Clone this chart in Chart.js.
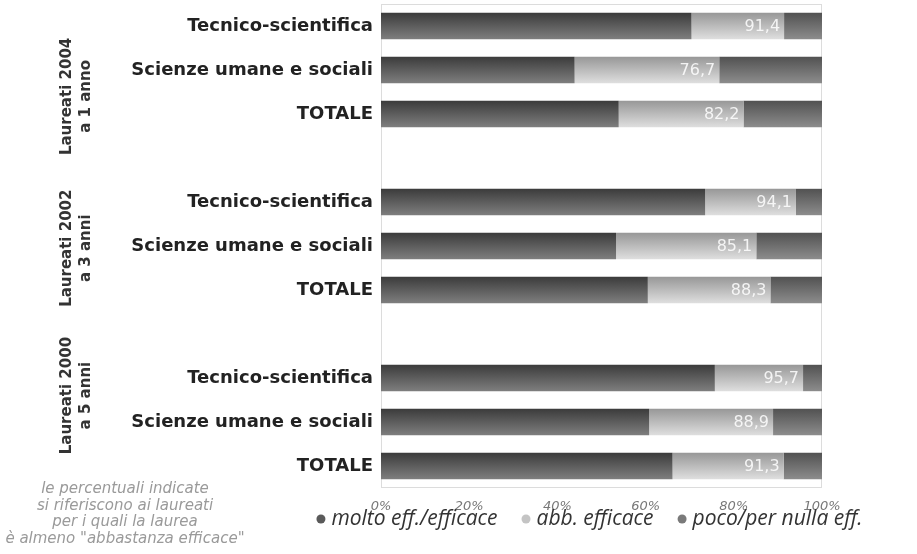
<!DOCTYPE html>
<html lang="it">
<head>
    <meta charset="UTF-8">
    <title>Efficacia della laurea</title>
    <script src="https://cdn.jsdelivr.net/npm/chart.js"></script>
    <style>
        html, body {
            margin: 0;
            padding: 0;
            background: #ffffff;
        }
        #wrap {
            width: 917px;
            height: 554px;
        }
    </style>
</head>
<body>
    <div id="wrap"><canvas id="grafico"></canvas></div>

    <script>
        // Categorie (righe vuote tra un gruppo e l'altro)
        const categorie = [
            'Tecnico-scientifica', 'Scienze umane e sociali', 'TOTALE', '',
            'Tecnico-scientifica', 'Scienze umane e sociali', 'TOTALE', '',
            'Tecnico-scientifica', 'Scienze umane e sociali', 'TOTALE'
        ];
        const gruppi = [
            ['Laureati 2004', 'a 1 anno'],
            ['Laureati 2002', 'a 3 anni'],
            ['Laureati 2000', 'a 5 anni']
        ];
        const nomiSerie = ['molto eff./efficace', 'abb. efficace', 'poco/per nulla eff.'];

        // Valori (%)
        const moltoEfficace = [70.4, 43.9, 53.9, null, 73.5, 53.3, 60.5, null, 75.7, 60.8, 66.1];
        const abbEfficace   = [21.0, 32.8, 28.3, null, 20.6, 31.8, 27.8, null, 20.0, 28.1, 25.2];
        const pocoNulla     = [ 8.6, 23.3, 17.8, null,  5.9, 14.9, 11.7, null,  4.3, 11.1,  8.7];

        const tickX = [0, 20, 40, 60, 80, 100];

        const nota = [
            'le percentuali indicate',
            'si riferiscono ai laureati',
            'per i quali la laurea',
            'è almeno "abbastanza efficace"'
        ];

        // Sfumature delle barre (alto -> basso)
        const sfumature = [
            ['#3c3c3c', '#7e7e7e'],
            ['#989898', '#dedede'],
            ['#525252', '#8c8c8c']
        ];
        const coloriLegenda = ['#5a5a5a', '#c4c4c4', '#7a7a7a'];

        function sfumatura(serie) {
            return (ctx) => {
                const c = ctx.chart;
                const ys = c.scales && c.scales.y;
                if (!ys || !c.chartArea || ctx.dataIndex === undefined) return sfumature[serie][0];
                const yc = ys.getPixelForValue(ctx.dataIndex);
                const g = c.ctx.createLinearGradient(0, yc - 13, 0, yc + 13);
                g.addColorStop(0, sfumature[serie][0]);
                g.addColorStop(1, sfumature[serie][1]);
                return g;
            };
        }

        const serie = [moltoEfficace, abbEfficace, pocoNulla];

        // Cornice, etichette dei valori, gruppi, nota e legenda
        const decorazioni = {
            id: 'decorazioni',
            beforeDatasetsDraw(chart) {
                const { ctx, chartArea } = chart;
                ctx.save();
                ctx.strokeStyle = '#dcdcdc';
                ctx.lineWidth = 1;
                ctx.strokeRect(chartArea.left + 0.5, chartArea.top + 0.5,
                    chartArea.right - chartArea.left - 1, chartArea.bottom - chartArea.top - 1);
                ctx.restore();
            },
            afterDatasetsDraw(chart) {
                const { ctx, chartArea } = chart;
                const xs = chart.scales.x;
                const ys = chart.scales.y;
                ctx.save();

                // somma molto + abbastanza, scritta dentro la barra chiara
                ctx.font = '16px "DejaVu Sans"';
                ctx.fillStyle = 'rgba(255,255,255,0.85)';
                ctx.textAlign = 'right';
                ctx.textBaseline = 'middle';
                moltoEfficace.forEach((v, i) => {
                    if (v === null) return;
                    const somma = v + abbEfficace[i];
                    const testo = somma.toFixed(1).replace('.', ',');
                    ctx.fillText(testo, xs.getPixelForValue(somma) - 4, ys.getPixelForValue(i) + 1);
                });

                // etichette verticali dei gruppi
                const posGruppi = [1.6, 5.05, 8.4];
                ctx.font = 'bold 15px "DejaVu Sans"';
                ctx.fillStyle = '#333333';
                ctx.textAlign = 'center';
                gruppi.forEach((righe, k) => {
                    ctx.save();
                    ctx.translate(77, ys.getPixelForValue(posGruppi[k]));
                    ctx.rotate(-Math.PI / 2);
                    ctx.fillText(righe[0], 0, -9.5);
                    ctx.fillText(righe[1], 0, 9.5);
                    ctx.restore();
                });

                // nota in basso a sinistra
                ctx.font = 'italic 15px "DejaVu Sans"';
                ctx.fillStyle = '#9a9a9a';
                nota.forEach((riga, k) => {
                    ctx.fillText(riga, 125, chartArea.bottom + 1 + k * 16.7);
                });

                // legenda
                ctx.font = 'italic 21px "Open Sans"';
                ctx.textAlign = 'left';
                const spazio = 24, r = 4.5, gap = 6;
                const larghezze = nomiSerie.map(t => ctx.measureText(t).width);
                const totale = larghezze.reduce((a, b) => a + b, 0) + nomiSerie.length * (2 * r + gap) + spazio * (nomiSerie.length - 1);
                let x = (chartArea.left + chartArea.right) / 2 - 12 - totale / 2;
                const y = chartArea.bottom + 31;
                nomiSerie.forEach((t, k) => {
                    ctx.fillStyle = coloriLegenda[k];
                    ctx.beginPath();
                    ctx.arc(x + r, y, r, 0, Math.PI * 2);
                    ctx.fill();
                    ctx.fillStyle = '#333333';
                    ctx.fillText(t, x + 2 * r + gap, y);
                    x += 2 * r + gap + larghezze[k] + spazio;
                });

                ctx.restore();
            }
        };

        new Chart(document.getElementById('grafico'), {
            type: 'bar',
            data: {
                labels: categorie,
                datasets: serie.map((dati, k) => ({
                    label: nomiSerie[k],
                    data: dati,
                    backgroundColor: sfumatura(k),
                    borderWidth: 0,
                    barPercentage: 0.6,
                    categoryPercentage: 1.0
                }))
            },
            options: {
                indexAxis: 'y',
                responsive: true,
                maintainAspectRatio: false,
                animation: false,
                layout: {
                    padding: { left: 0, right: 95, top: 4, bottom: 36 }
                },
                scales: {
                    x: {
                        stacked: true,
                        min: 0,
                        max: 100,
                        afterBuildTicks: (scale) => {
                            scale.ticks = tickX.map(v => ({ value: v }));
                        },
                        afterFit: (scale) => {
                            scale.height = 30;
                            scale.paddingLeft = 0;
                            scale.paddingRight = 0;
                        },
                        grid: { display: false, drawTicks: false },
                        border: { display: false },
                        ticks: {
                            padding: 11,
                            color: '#777777',
                            font: { family: '"DejaVu Sans"', style: 'italic', size: 13 },
                            callback: (v) => v + '%'
                        }
                    },
                    y: {
                        stacked: true,
                        afterFit: (scale) => {
                            scale.width = 381;
                            scale.paddingTop = 0;
                            scale.paddingBottom = 0;
                        },
                        grid: { display: false, drawTicks: false },
                        border: { display: false },
                        ticks: {
                            padding: 8,
                            autoSkip: false,
                            color: '#222222',
                            font: { family: '"DejaVu Sans"', weight: 'bold', size: 18 }
                        }
                    }
                },
                plugins: {
                    legend: { display: false },
                    tooltip: { enabled: false }
                }
            },
            plugins: [decorazioni]
        });
    </script>
</body>
</html>
